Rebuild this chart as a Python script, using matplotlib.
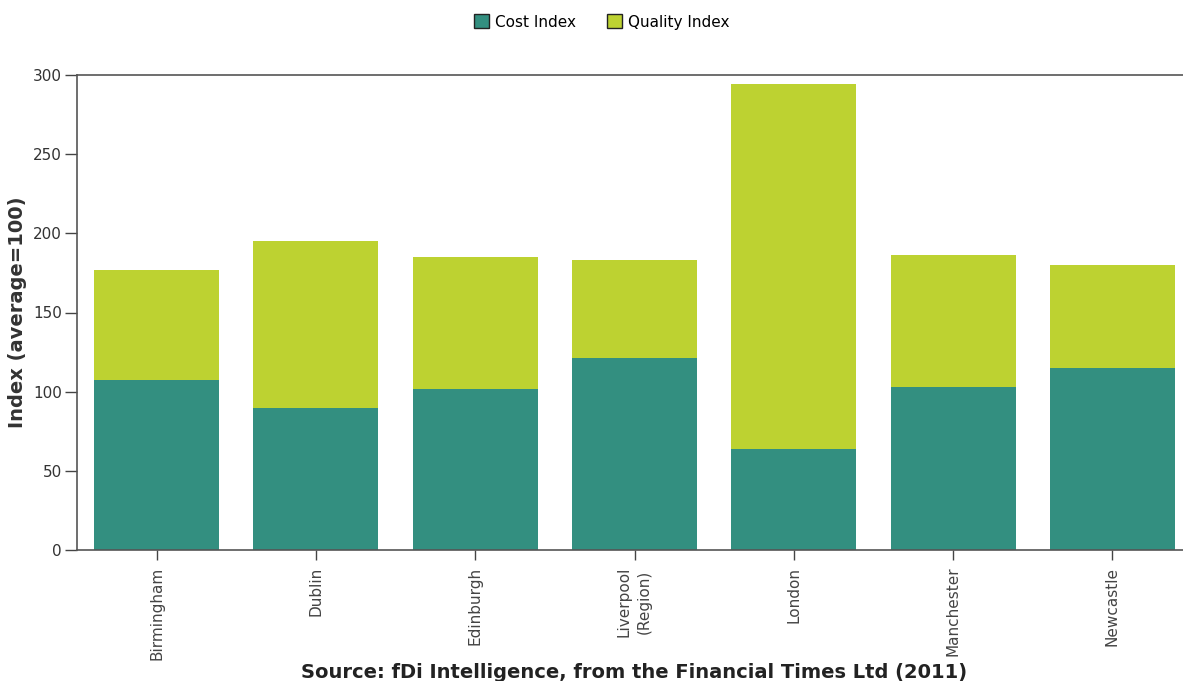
import matplotlib.pyplot as plt
from matplotlib.patches import Patch

## data ##
cities = ["Birmingham", "Dublin", "Edinburgh", "Liverpool\n(Region)", "London", "Manchester", "Newcastle"]
cost_index = [107.4, 89.7, 101.7, 121.3, 63.8, 103.0, 115.0]
quality_index = [69.5, 105.5, 83.3, 61.9, 230.6, 83.3, 65.0]

teal = "#338f80"
lime = "#bdd231"
grey = "#333333"

fig = plt.figure(figsize=(11.83, 6.81), dpi=100)
ax = fig.add_axes([77 / 1183, 131 / 681, 1115 / 1183, 475 / 681])

x = range(len(cities))
ax.bar(x, cost_index, width=0.785, color=teal, edgecolor="none")
ax.bar(x, quality_index, width=0.785, bottom=cost_index, color=lime, edgecolor="none")

ax.set_xlim(-0.5, 6.5)
ax.set_ylim(0, 300)
ax.set_yticks([0, 50, 100, 150, 200, 250, 300])
ax.set_xticks(list(x))
ax.set_xticklabels(cities, rotation=90, fontsize=11, color=grey, family="DejaVu Sans",
                   linespacing=1.45)
ax.tick_params(axis="y", direction="out", length=9, width=1, colors="#444444", labelsize=11,
               labelcolor=grey, pad=2)
ax.tick_params(axis="x", direction="out", length=7, width=1, colors="#444444", pad=5)

for side in ["left", "bottom", "top"]:
    ax.spines[side].set_color("#555555")
    ax.spines[side].set_linewidth(1.2)
ax.spines["right"].set_visible(False)

ax.set_ylabel("Index (average=100)", fontsize=14, fontweight="bold", color=grey, labelpad=4)

fig.text(634 / 1183, 8 / 681, "Source: fDi Intelligence, from the Financial Times Ltd (2011)",
         ha="center", va="center", fontsize=14, fontweight="bold", color="#222222")

handles = [Patch(facecolor=teal, edgecolor="#222222", label="Cost Index"),
           Patch(facecolor=lime, edgecolor="#222222", label="Quality Index")]
fig.legend(handles=handles, loc="center", bbox_to_anchor=(602 / 1183, 1 - 22 / 681), ncol=2,
           frameon=False, prop={"family": "DejaVu Sans", "size": 11},
           handlelength=1.0, handleheight=1.0, handletextpad=0.4, columnspacing=2.0)

fig.savefig("out.png", dpi=100)
